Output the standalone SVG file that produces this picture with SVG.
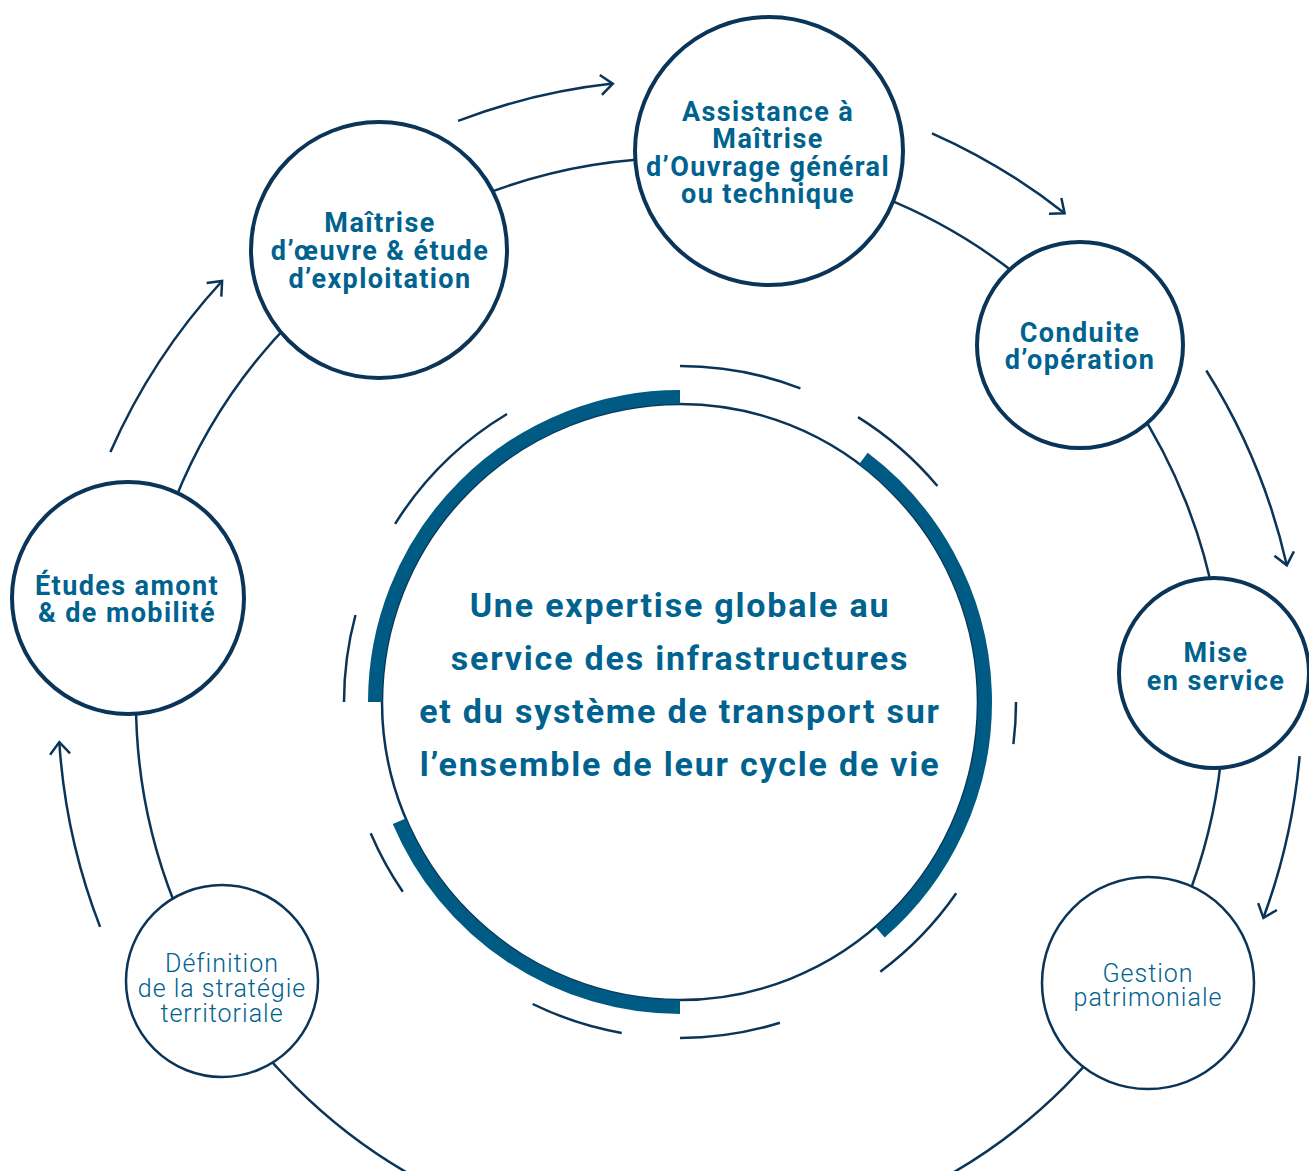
<svg xmlns="http://www.w3.org/2000/svg" width="1309" height="1171" viewBox="0 0 1309 1171">
<defs>
<style>
.ln{fill:none;stroke:#0b3558;stroke-width:2.5}
.thick{fill:none;stroke:#005b84;stroke-width:14}
.node{fill:#fff;stroke:#0b3558;stroke-width:4}
.nodel{fill:#fff;stroke:#0b3558;stroke-width:2.5}
.t{font-family:Roboto,"Liberation Sans",sans-serif;font-weight:700;font-size:27px;letter-spacing:1.4px;fill:#00628e;text-anchor:middle}
.tl{font-family:Roboto,"Liberation Sans",sans-serif;font-weight:300;font-size:25px;letter-spacing:1px;fill:#00628e;text-anchor:middle}
.tc{font-family:Roboto,"Liberation Sans",sans-serif;font-weight:700;font-size:34px;letter-spacing:1.8px;fill:#00628e;text-anchor:middle}
</style>
<marker id="ah" markerUnits="userSpaceOnUse" markerWidth="30" markerHeight="30" viewBox="-15 -15 30 30" refX="0" refY="0" orient="auto" overflow="visible">
<path d="M-12,-10 L0,0 L-12,10" fill="none" stroke="#0b3558" stroke-width="2.5"/>
</marker>
</defs>
<rect width="1309" height="1171" fill="#fff"/>
<g id="connectors">
<circle class="ln" cx="680" cy="702" r="544"/>
<path class="ln" marker-end="url(#ah)" d="M458.1,120.9 A622,622 0 0 1 612.8,83.6"/>
<path class="ln" marker-end="url(#ah)" d="M932,133.3 A622,622 0 0 1 1064.6,213.2"/>
<path class="ln" marker-end="url(#ah)" d="M1206.3,370.5 A622,622 0 0 1 1286.8,565.3"/>
<path class="ln" marker-end="url(#ah)" d="M1299.6,756.2 A622,622 0 0 1 1263.4,917.8"/>
<path class="ln" marker-end="url(#ah)" d="M100.1,926.9 A622,622 0 0 1 59.3,742.1"/>
<path class="ln" marker-end="url(#ah)" d="M110.4,452 A622,622 0 0 1 222.1,281"/>
</g>
<g id="center">
<circle cx="680" cy="702" r="298" fill="#fff" stroke="#0b3558" stroke-width="2.5"/>
<path class="thick" d="M375,702 A305,305 0 0 1 680,397"/>
<path class="thick" d="M863.5,458.4 A305,305 0 0 1 880.1,932.2"/>
<path class="thick" d="M680,1007 A305,305 0 0 1 399.2,821.2"/>
<path class="ln" d="M680,366 A336,336 0 0 1 800.4,388.3"/>
<path class="ln" d="M858,417.1 A336,336 0 0 1 937.4,486"/>
<path class="ln" d="M1016,702 A336,336 0 0 1 1013.4,744.1"/>
<path class="ln" d="M956.2,893.3 A336,336 0 0 1 880.3,971.7"/>
<path class="ln" d="M779.9,1022.8 A336,336 0 0 1 680,1038"/>
<path class="ln" d="M621.7,1032.9 A336,336 0 0 1 532.7,1004"/>
<path class="ln" d="M402.8,891.8 A336,336 0 0 1 370.7,833.3"/>
<path class="ln" d="M344,702 A336,336 0 0 1 355.5,615"/>
<path class="ln" d="M395.1,523.9 A336,336 0 0 1 507,414"/>
<text class="tc" x="680" y="617">Une expertise globale au</text>
<text class="tc" x="680" y="670">service des infrastructures</text>
<text class="tc" x="680" y="723">et du système de transport sur</text>
<text class="tc" x="680" y="776">l’ensemble de leur cycle de vie</text>
</g>
<g id="node-moe">
<circle class="node" cx="379" cy="250" r="128"/>
<text class="t" x="380" y="232">Maîtrise</text>
<text class="t" x="380" y="260">d’œuvre &amp; étude</text>
<text class="t" x="380" y="288">d’exploitation</text>
</g>
<g id="node-amo">
<circle class="node" cx="769" cy="151" r="134"/>
<text class="t" x="768" y="121">Assistance à</text>
<text class="t" x="768" y="148">Maîtrise</text>
<text class="t" x="768" y="176">d’Ouvrage général</text>
<text class="t" x="768" y="203">ou technique</text>
</g>
<g id="node-conduite">
<circle class="node" cx="1080" cy="345" r="103"/>
<text class="t" x="1080" y="342">Conduite</text>
<text class="t" x="1080" y="369">d’opération</text>
</g>
<g id="node-mise">
<circle class="node" cx="1214" cy="673" r="95"/>
<text class="t" x="1216" y="662">Mise</text>
<text class="t" x="1216" y="690">en service</text>
</g>
<g id="node-gestion">
<circle class="nodel" cx="1148" cy="983" r="106"/>
<text class="tl" x="1148" y="982">Gestion</text>
<text class="tl" x="1148" y="1006">patrimoniale</text>
</g>
<g id="node-etudes">
<circle class="node" cx="128" cy="598" r="116"/>
<text class="t" x="127" y="595">Études amont</text>
<text class="t" x="127" y="622">&amp; de mobilité</text>
</g>
<g id="node-definition">
<circle class="nodel" cx="222" cy="981" r="96"/>
<text class="tl" x="222" y="972">Définition</text>
<text class="tl" x="222" y="997">de la stratégie</text>
<text class="tl" x="222" y="1022">territoriale</text>
</g>
</svg>
